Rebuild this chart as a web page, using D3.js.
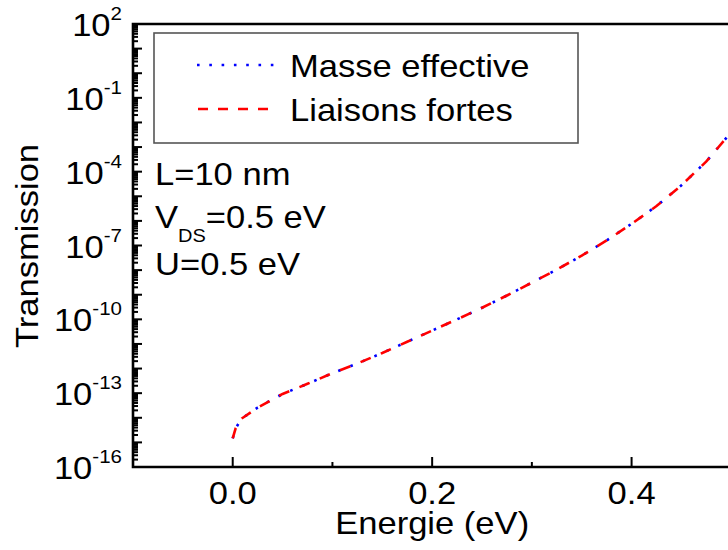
<!DOCTYPE html>
<html>
<head>
<meta charset="utf-8">
<script src="https://cdn.jsdelivr.net/npm/d3@7"></script>
<style>
  html, body { margin: 0; padding: 0; background: #fff; }
  text { font-family: "Liberation Sans", Arial, sans-serif; fill: #000; }
</style>
</head>
<body>
<svg id="chart" width="728" height="550"></svg>
<script>
'use strict';

// energy (eV) and transmission, both models
const energie = [0, 0.003, 0.009, 0.025, 0.05, 0.075, 0.1, 0.125, 0.15, 0.175, 0.2, 0.225,
  0.25, 0.275, 0.3, 0.325, 0.35, 0.375, 0.4, 0.425, 0.45, 0.475, 0.5];
const masseEffective = [1.45e-15, 3.8e-15, 9.3e-15, 2.6e-14, 9.3e-14, 2.4e-13, 6.5e-13, 1.6e-12,
  4.3e-12, 1.23e-11, 3.5e-11, 1.0e-10, 2.95e-10, 9.3e-10, 3.1e-9, 1.05e-8, 3.9e-8, 1.6e-7,
  7.6e-7, 4.0e-6, 2.8e-5, 2.6e-4, 4.1e-3];
const liaisonsFortes = [1.45e-15, 3.8e-15, 9.3e-15, 2.6e-14, 9.3e-14, 2.4e-13, 6.5e-13, 1.6e-12,
  4.3e-12, 1.23e-11, 3.5e-11, 1.0e-10, 2.95e-10, 9.3e-10, 3.1e-9, 1.05e-8, 3.9e-8, 1.6e-7,
  7.6e-7, 4.0e-6, 2.8e-5, 2.6e-4, 4.1e-3];

const xMajor = [0.0, 0.2, 0.4];
const xMinor = [0.1, 0.3];
const yLabelExp = [2, -1, -4, -7, -10, -13, -16];
const legendLabels = ['Masse effective', 'Liaisons fortes'];

const svg = d3.select('#chart');
const sx = 1.08; // glyphs are a bit wide in this layout

const x = d3.scaleLinear().domain([-0.1, 0.5]).range([133, 731.3]);
const y = d3.scaleLog().domain([1e-16, 1e2]).range([467, 24]);

function label(g, px, py, anchor, size) {
  return g.append('g')
      .attr('transform', 'translate(' + [px, py] + ') scale(' + sx + ',1)')
    .append('text')
      .attr('text-anchor', anchor)
      .style('font-size', size + 'px');
}

// curves
svg.append('clipPath').attr('id', 'plot')
  .append('rect').attr('x', 133).attr('y', 24).attr('width', 600).attr('height', 443);

const line = d3.line()
  .x((d, i) => x(energie[i]))
  .y(d => y(d));

const curves = svg.append('g').attr('clip-path', 'url(#plot)');
curves.append('path')
    .attr('d', line(masseEffective))
    .attr('fill', 'none')
    .attr('stroke', '#0000ff')
    .attr('stroke-width', 2.6)
    .attr('stroke-dasharray', '2.6,10.4');
curves.append('path')
    .attr('d', line(liaisonsFortes))
    .attr('fill', 'none')
    .attr('stroke', '#ff0000')
    .attr('stroke-width', 2.6)
    .attr('stroke-dasharray', '11,11');

// axes
const yDecades = d3.range(-16, 3).map(e => Math.pow(10, e));
const yMinorTicks = d3.merge(d3.range(-16, 2).map(e => d3.range(2, 10).map(m => m * Math.pow(10, e))));

const yAxis = svg.append('g').attr('class', 'y axis');
yAxis.selectAll('line.major').data(yDecades).enter().append('line')
    .attr('x1', 133).attr('x2', 142)
    .attr('y1', d => y(d)).attr('y2', d => y(d));
yAxis.selectAll('line.minor').data(yMinorTicks).enter().append('line')
    .attr('x1', 133).attr('x2', 138)
    .attr('y1', d => y(d)).attr('y2', d => y(d));
yAxis.selectAll('line').attr('stroke', '#000').attr('stroke-width', 2);

const xAxis = svg.append('g').attr('class', 'x axis');
xAxis.selectAll('line.major').data(xMajor).enter().append('line')
    .attr('x1', d => x(d)).attr('x2', d => x(d))
    .attr('y1', 467).attr('y2', 457);
xAxis.selectAll('line.minor').data(xMinor).enter().append('line')
    .attr('x1', d => x(d)).attr('x2', d => x(d))
    .attr('y1', 467).attr('y2', 462);
xAxis.selectAll('line').attr('stroke', '#000').attr('stroke-width', 2);

svg.append('path')
    .attr('d', 'M' + x.range()[1] + ',' + y.range()[1] + 'H' + x.range()[0] + 'V' + y.range()[0] + 'H' + x.range()[1])
    .attr('fill', 'none')
    .attr('stroke', '#000')
    .attr('stroke-width', 2.6);

// tick labels
yLabelExp.forEach(e => {
  const t = label(svg, 122, y(Math.pow(10, e)) + 12, 'end', 32);
  t.append('tspan').text('10');
  t.append('tspan').attr('dy', -16).style('font-size', '19px').text(e);
});

xMajor.forEach(v => {
  label(svg, x(v), 504, 'middle', 32).text(d3.format('.1f')(v));
});

label(svg, (x.range()[0] + x.range()[1]) / 2, 534, 'middle', 32).text('Energie (eV)');

svg.append('g')
    .attr('transform', 'translate(38,246) rotate(-90) scale(' + sx + ',1)')
  .append('text')
    .attr('text-anchor', 'middle')
    .style('font-size', '32px')
    .text('Transmission');

// parameters
label(svg, 155, 185, 'start', 32).text('L=10 nm');
const vds = label(svg, 155, 228, 'start', 32);
vds.append('tspan').text('V');
vds.append('tspan').attr('dy', 14).style('font-size', '18.5px').text('DS');
vds.append('tspan').attr('dy', -14).text('=0.5 eV');
label(svg, 155, 275, 'start', 32).text('U=0.5 eV');

// legend
const legend = svg.append('g').attr('class', 'legend');
legend.append('rect')
    .attr('x', 154).attr('y', 33).attr('width', 424).attr('height', 110)
    .attr('fill', '#fff')
    .attr('stroke', '#555')
    .attr('stroke-width', 1.6);
legend.append('line')
    .attr('x1', 197).attr('x2', 274).attr('y1', 65).attr('y2', 65)
    .attr('stroke', '#0000ff').attr('stroke-width', 2.6)
    .attr('stroke-dasharray', '2.6,9.7');
legend.append('line')
    .attr('x1', 198).attr('x2', 268).attr('y1', 109).attr('y2', 109)
    .attr('stroke', '#ff0000').attr('stroke-width', 2.6)
    .attr('stroke-dasharray', '10,10');
legendLabels.forEach((s, i) => {
  label(legend, 290, 77 + i * 44, 'start', 32).text(s);
});
</script>
</body>
</html>
